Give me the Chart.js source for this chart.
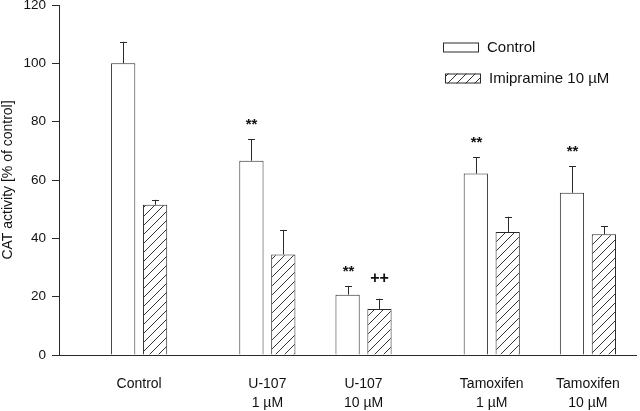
<!DOCTYPE html>
<html>
<head>
<meta charset="utf-8">
<script src="https://cdn.jsdelivr.net/npm/chart.js@4/dist/chart.umd.min.js"></script>
<style>
  html, body { margin: 0; padding: 0; background: #fff; }
  #wrap { width: 640px; height: 411px; position: relative; }
</style>
</head>
<body>
<div id="wrap"><canvas id="catChart"></canvas></div>
<script>
// groups along the x axis
const categories = [
  "Control",
  ["U-107", "1 µM"],
  ["U-107", "10 µM"],
  ["Tamoxifen", "1 µM"],
  ["Tamoxifen", "10 µM"]
];
const seriesNames = ["Control", "Imipramine 10 µM"];

// CAT activity, % of control
const controlValues = [100, 66.6, 20.7, 62.2, 55.6];
const controlErrors = [7.4, 7.4, 3.0, 5.6, 9.1];
const imipValues = [51.5, 34.5, 15.8, 42.2, 41.4];
const imipErrors = [1.7, 8.4, 3.5, 5.2, 2.8];

// significance marks above the error bars
const controlMarks = ["", "**", "**", "**", "**"];
const imipMarks = ["", "", "++", "", ""];

const yTicks = [0, 20, 40, 60, 80, 100, 120];

// layout: which slot of the category axis each group sits in (uneven spacing)
const slotCount = 18;
const groupSlot = [2, 6, 9, 13, 16];

const ink = "#2a2a2a";
const FONT = "'Liberation Sans', Arial, Helvetica, sans-serif";

function spread(values) {
  const out = new Array(slotCount).fill(null);
  groupSlot.forEach((s, i) => { out[s] = values[i]; });
  return out;
}

const labels = new Array(slotCount).fill("");
groupSlot.forEach((s, i) => { labels[s] = categories[i]; });

// diagonal hatch
function makeHatch() {
  const size = 9;
  const c = document.createElement("canvas");
  c.width = size; c.height = size;
  const g = c.getContext("2d");
  g.fillStyle = "#fff";
  g.fillRect(0, 0, size, size);
  g.strokeStyle = "#333";
  g.lineWidth = 1;
  g.beginPath();
  g.moveTo(-1, size + 1); g.lineTo(size + 1, -1);
  g.moveTo(-1, 1); g.lineTo(1, -1);
  g.moveTo(size - 1, size + 1); g.lineTo(size + 1, size - 1);
  g.stroke();
  return g.createPattern(c, "repeat");
}
const hatch = makeHatch();

const errorsByDataset = [spread(controlErrors), spread(imipErrors)];
const marksByDataset = [spread(controlMarks), spread(imipMarks)];

const extras = {
  id: "extras",
  afterDatasetsDraw(chart) {
    const ctx = chart.ctx;
    const y = chart.scales.y;
    ctx.save();
    chart.data.datasets.forEach((ds, di) => {
      const meta = chart.getDatasetMeta(di);
      meta.data.forEach((bar, i) => {
        const v = ds.data[i];
        if (v == null) return;
        const err = errorsByDataset[di][i];
        const top = y.getPixelForValue(v + err);
        const x = Math.round(bar.x) + 0.5;
        ctx.strokeStyle = ink;
        ctx.lineWidth = 1;
        ctx.beginPath();
        ctx.moveTo(x, bar.y);
        ctx.lineTo(x, top);
        ctx.moveTo(x - 3.5, Math.round(top) + 0.5);
        ctx.lineTo(x + 3.5, Math.round(top) + 0.5);
        ctx.stroke();

        const mark = marksByDataset[di][i];
        if (mark) {
          ctx.fillStyle = "#111";
          ctx.textAlign = "center";
          ctx.textBaseline = "alphabetic";
          if (mark === "**") {
            ctx.font = "bold 15px " + FONT;
            ctx.fillText(mark, x, top - 10);
          } else {
            ctx.font = "bold 16px " + FONT;
            ctx.fillText(mark, x, top - 16);
          }
        }
      });
    });

    // legend
    const items = [
      { x: 443, y: 42.5, fill: "#fff" },
      { x: 445, y: 73.5, fill: hatch }
    ];
    ctx.font = "15px " + FONT;
    ctx.textAlign = "left";
    ctx.textBaseline = "middle";
    items.forEach((it, k) => {
      ctx.fillStyle = it.fill;
      ctx.fillRect(it.x, it.y, 36, 10);
      ctx.strokeStyle = ink;
      ctx.strokeRect(it.x + 0.5, it.y + 0.5, 35, 9);
      ctx.fillStyle = "#111";
      ctx.fillText(seriesNames[k], it.x + 44, it.y + 5.5);
    });
    ctx.restore();
  }
};

new Chart(document.getElementById("catChart"), {
  type: "bar",
  data: {
    labels: labels,
    datasets: [
      {
        label: seriesNames[0],
        data: spread(controlValues),
        backgroundColor: "#fff",
        borderColor: ink,
        borderWidth: 1,
        categoryPercentage: 1.99,
        barPercentage: 0.76
      },
      {
        label: seriesNames[1],
        data: spread(imipValues),
        backgroundColor: hatch,
        borderColor: ink,
        borderWidth: 1,
        categoryPercentage: 1.99,
        barPercentage: 0.76
      }
    ]
  },
  options: {
    responsive: true,
    maintainAspectRatio: false,
    animation: false,
    layout: { padding: { top: 0, right: 1, left: 0, bottom: 0 } },
    plugins: {
      legend: { display: false },
      tooltip: { enabled: false }
    },
    scales: {
      x: {
        afterFit: (scale) => { scale.height = 56; },
        grid: { display: false, drawTicks: false },
        border: { display: true, color: ink, width: 1 },
        ticks: {
          autoSkip: false,
          maxRotation: 0,
          padding: 20,
          color: "#111",
          font: { family: FONT, size: 14, lineHeight: 1.36 }
        }
      },
      y: {
        min: 0,
        max: 120,
        afterBuildTicks: (scale) => { scale.ticks = yTicks.map(v => ({ value: v })); },
        afterFit: (scale) => {
          scale.width = 59;
          scale.paddingTop = 5;
          scale.paddingBottom = 0;
        },
        grid: { drawOnChartArea: false, color: ink, tickLength: 7 },
        border: { display: true, color: ink, width: 1 },
        ticks: {
          padding: 6,
          color: "#111",
          font: { family: FONT, size: 13.5, lineHeight: 0.8 }
        },
        title: {
          display: true,
          align: "center",
          text: "CAT activity [% of control]",
          color: "#111",
          padding: { top: 0, bottom: 4 },
          font: { family: FONT, size: 14 }
        }
      }
    }
  },
  plugins: [extras]
});
</script>
</body>
</html>
